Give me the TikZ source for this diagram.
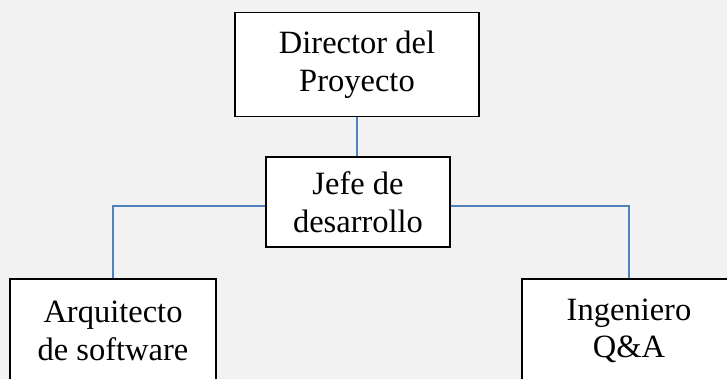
\documentclass[tikz,border=0pt]{standalone}
\usepackage{fontspec}
\setmainfont{Liberation Serif}
\definecolor{fondo}{HTML}{F2F2F2}
\definecolor{linea}{HTML}{4F81BD}
\begin{document}
\begin{tikzpicture}[x=1pt, y=-1pt,
  caja/.style={draw=black, line width=1.5pt, fill=white, align=center, inner sep=0pt,
    font=\fontsize{32.5}{37.5}\selectfont},
  enlace/.style={draw=linea, line width=2pt}]
\useasboundingbox (0,0) rectangle (727,379);
\clip (0,0) rectangle (727,379);
\fill[fondo] (0,0) rectangle (727,379);
\node[caja, minimum width=244pt, minimum height=104pt] (dir) at (357,64.5) {Director del\\Proyecto};
\node[caja, minimum width=184pt, minimum height=90pt] (jefe) at (358,202) {Jefe de\\desarrollo};
\node[caja, minimum width=206pt, minimum height=104pt] (arq) at (113,331) {Arquitecto\\de software};
\node[caja, minimum width=214pt, minimum height=104pt] (ing) at (629,331) {Ingeniero\\Q\&A};
\draw[enlace] (dir.south) -- (dir.south |- jefe.north);
\draw[enlace] ([yshift=-4.5pt]jefe.west) -| (arq.north);
\draw[enlace] ([yshift=-4.5pt]jefe.east) -| (ing.north);
\end{tikzpicture}
\end{document}
